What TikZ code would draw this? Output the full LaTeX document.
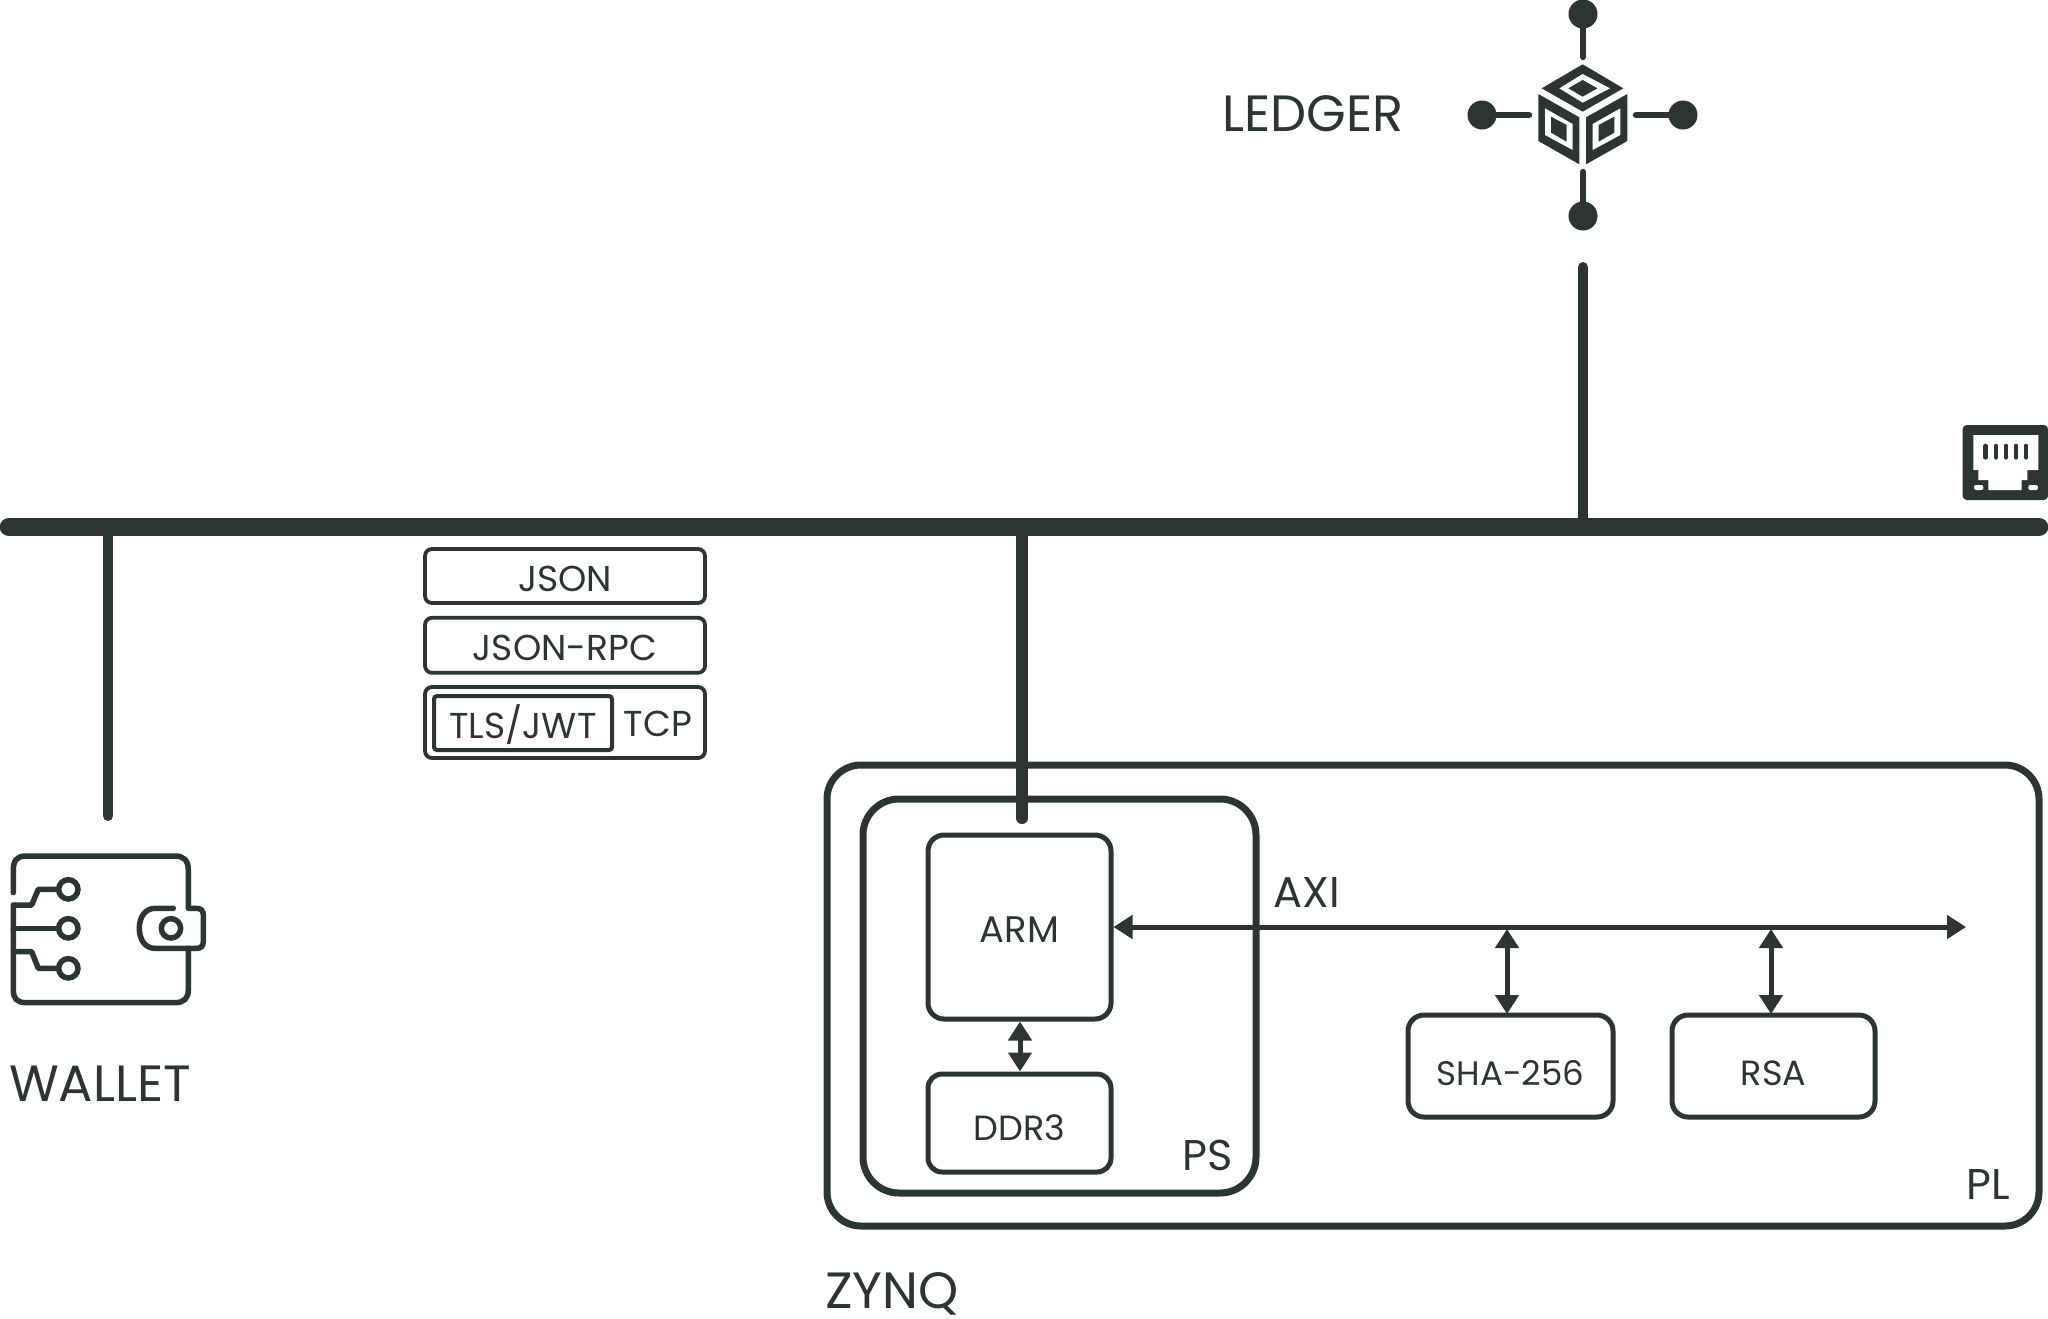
\documentclass[tikz,border=0pt]{standalone}
\usepackage{fontspec}
\setmainfont{Poppins}
\usetikzlibrary{positioning}
\usetikzlibrary{arrows.meta}
\definecolor{ink}{HTML}{2D3534}
\tikzstyle{block} = [draw=ink, rounded corners=16pt, line width=5pt, text=ink, font=\fontsize{35}{40}\selectfont, inner sep=0pt, text height=31pt, text depth=0pt]
\tikzstyle{stack} = [block, rounded corners=7pt, line width=3.8pt, minimum width=280pt, font=\fontsize{36}{40}\selectfont]
\tikzstyle{frame} = [draw=ink, line width=7pt, inner sep=0pt]
\tikzstyle{label} = [text=ink, inner sep=0pt, text depth=0pt, font=\fontsize{43}{48}\selectfont]
\tikzstyle{title} = [label, font=\fontsize{51}{56}\selectfont]
\tikzstyle{line} = [draw=ink, line cap=round]
\tikzstyle{axi} = [draw=ink, line width=5pt, {Triangle[length=19pt,width=23pt]}-{Triangle[length=19pt,width=23pt]}]
\tikzstyle{hub} = [circle, fill=ink, minimum size=29pt, inner sep=0pt]

\begin{document}
\begin{tikzpicture}[x=1pt, y=-1pt]
	\useasboundingbox (0,0) rectangle (2048,1318);
	%% Network
	\coordinate (busL) at (9,527);
	\coordinate (busR) at (2039,527);
	\coordinate (walletEnd) at (108,816);
	\coordinate (armEnd) at (1022,818);
	\coordinate (ledgerEnd) at (1583,267);
	\path [line, line width=18.5pt] (busL) -- (busR);
	\path [line, line width=10pt] (walletEnd |- busL) -- (walletEnd);
	\path [line, line width=10pt] (ledgerEnd |- busL) -- (ledgerEnd);
	%% Zynq
	\node [frame, rounded corners=34pt, minimum width=1212pt, minimum height=461pt] (PL) at (1433,995.5) {};
	\node [frame, rounded corners=36pt, minimum width=393pt, minimum height=394pt] (PS) at (1059.5,996) {};
	\path [line, line width=12pt] (armEnd |- busL) -- (armEnd);
	\node [block, font=\fontsize{37}{42}\selectfont, minimum width=183pt, minimum height=184pt] (ARM) at (1019.5,927) {ARM};
	\node [block, rounded corners=14pt, below=50pt of ARM, text height=34pt, minimum width=183pt, minimum height=98pt] (DDR) {DDR3};
	\node [block, font=\fontsize{34}{40}\selectfont, text height=38pt, minimum width=205pt, minimum height=102pt] (SHA) at (1510.5,1066) {SHA-256};
	\node [block, right=54pt of SHA, text height=38pt, minimum width=203pt, minimum height=102pt] (RSA) {RSA};
	\node [label] (PSText) at (1208,1155) {PS};
	\node [label] (PLText) at (1988,1184) {PL};
	\node [label] (AXIText) at (1307,892) {AXI};
	\node [title] (ZYNQ) at (892,1291) {ZYNQ};
	%% Flows
	\coordinate (axiEnd) at (1966,927);
	\coordinate (shaTop) at (1507,1014);
	\coordinate (rsaTop) at (1771,1014);
	\coordinate (shaBus) at (1507,929);
	\coordinate (rsaBus) at (1771,929);
	\path [axi] (ARM.east |- axiEnd) -- (axiEnd);
	\path [axi] (ARM.south -| 1020,0) -- (DDR.north -| 1020,0);
	\path [axi] (shaBus) -- (shaTop);
	\path [axi] (rsaBus) -- (rsaTop);
	%% Protocols
	\node [stack, minimum height=54pt] (JSON) at (565,576) {JSON};
	\node [stack, below=11pt of JSON, minimum height=55pt] (RPC) {JSON-RPC};
	\node [stack, minimum height=71pt] (TCPBox) at (565,722.5) {};
	\node [block, font=\fontsize{36}{40}\selectfont, rounded corners=3pt, line width=4pt, minimum width=178pt, minimum height=54pt] (TLS) at (523,723) {TLS/JWT};
	\node [label, font=\fontsize{36}{40}\selectfont] (TCP) at (658,724) {TCP};
	%% Ledger
	\node [title] (LEDGER) at (1313,114) {LEDGER};
	\node [hub] (n1) at (1583,14) {};
	\node [hub] (n2) at (1683,115) {};
	\node [hub] (n3) at (1583,216) {};
	\node [hub] (n4) at (1482,115) {};
	\coordinate (cubeN) at (1583,57);
	\coordinate (cubeE) at (1636,115);
	\coordinate (cubeS) at (1583,172);
	\coordinate (cubeW) at (1529,115);
	\foreach \a/\b in {n1/cubeN,n2/cubeE,n3/cubeS,n4/cubeW}
		\path [line, line width=6.5pt] (\a) -- (\b);
	\begin{scope}[shift={(1440,0)}, x=0.3333pt, y=-0.3333pt]
		\fill [ink] (428,193) -- (550,265) -- (428,335) -- (305,265) -- cycle;
		\fill [white] (428,222) -- (510,265) -- (428,308) -- (358,265) -- cycle;
		\fill [ink] (428,240) -- (472,265) -- (428,290) -- (385,265) -- cycle;
		\fill [ink] (295,282) -- (418,352) -- (418,493) -- (295,423) -- cycle;
		\fill [white] (315,325) -- (398,372) -- (398,450) -- (315,405) -- cycle;
		\fill [ink] (333,350) -- (380,375) -- (380,425) -- (333,398) -- cycle;
		\fill [ink] (562,282) -- (438,352) -- (438,493) -- (562,423) -- cycle;
		\fill [white] (541,325) -- (458,372) -- (458,450) -- (541,405) -- cycle;
		\fill [ink] (523,350) -- (476,375) -- (476,425) -- (523,398) -- cycle;
	\end{scope}
	%% Wallet
	\node [title] (WALLET) at (100,1084) {WALLET};
	\begin{scope}[shift={(0,840)}, x=0.3333pt, y=-0.3333pt]
		\path [line, line width=5.5pt, line join=round] (40,158) -- (40,90) .. controls (40,62) and (50,48) .. (78,48) -- (525,48) .. controls (552,48) and (565,62) .. (565,90) -- (565,205) -- (590,205) .. controls (603,205) and (610,212) .. (610,225) -- (610,305) .. controls (610,318) and (603,325) .. (590,325) -- (465,325) .. controls (435,325) and (418,298) .. (418,265) .. controls (418,232) and (435,205) .. (465,205) -- (520,205);
		\path [line, line width=5.5pt, line join=round] (565,325) -- (565,450) .. controls (565,475) and (552,488) .. (525,488) -- (78,488) .. controls (50,488) and (40,475) .. (40,450) -- (40,195) -- (95,195) -- (115,148) -- (175,148);
		\path [line, line width=5.5pt] (40,265) -- (175,265);
		\path [line, line width=5.5pt, line join=round] (40,335) -- (95,335) -- (115,385) -- (175,385);
		\foreach \x/\y in {205/148,205/265,205/385,513/265}
			\draw [ink, line width=5.5pt] (\x,\y) circle (29);
	\end{scope}
	%% Port
	\begin{scope}[shift={(1940,410)}, x=0.3333pt, y=-0.3333pt]
		\fill [ink, rounded corners=4pt] (68,45) rectangle (324,270);
		\fill [white] (100,75) -- (295,75) -- (295,180) -- (262,180) -- (262,210) -- (245,210) -- (245,240) -- (145,240) -- (145,210) -- (115,210) -- (115,180) -- (100,180) -- cycle;
		\foreach \x in {137,168,198,228,258}
			\path [line, line width=4.6pt] (\x,108) -- (\x,142);
		\fill [white, rounded corners=2pt] (102,225) rectangle (130,240);
		\fill [white, rounded corners=2pt] (265,225) rectangle (294,240);
	\end{scope}
\end{tikzpicture}
\end{document}
